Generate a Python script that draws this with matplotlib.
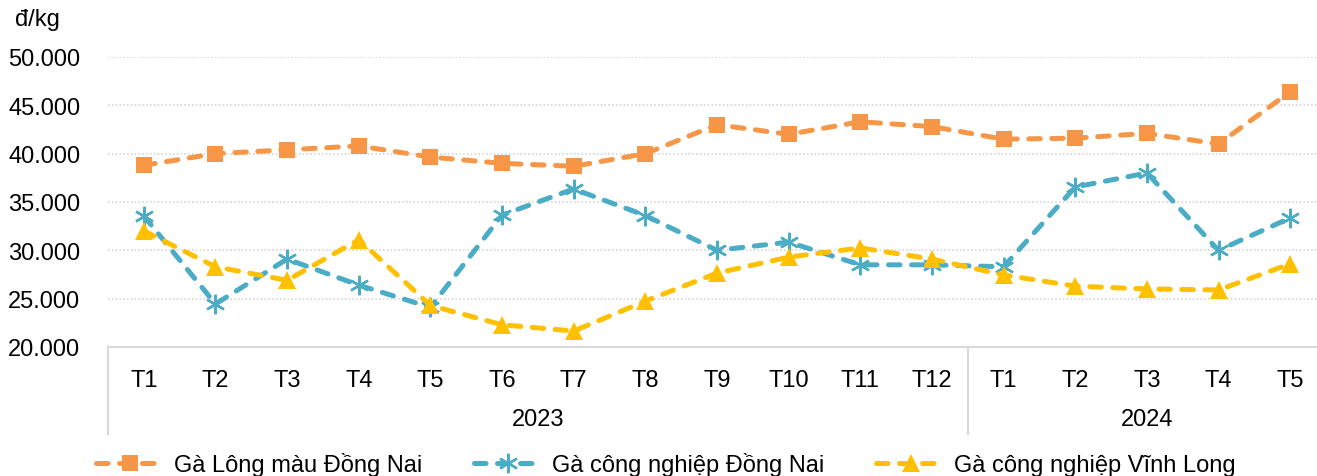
import matplotlib
matplotlib.use("Agg")
import matplotlib.pyplot as plt
from matplotlib.lines import Line2D
import matplotlib.transforms as mtransforms

plt.rcParams['font.family'] = ['Liberation Sans', 'DejaVu Sans']

months = ["T1", "T2", "T3", "T4", "T5", "T6", "T7", "T8", "T9", "T10", "T11", "T12",
          "T1", "T2", "T3", "T4", "T5"]
years = ["2023", "2024"]
year_counts = [12, 5]

ga_long_mau_dong_nai = [38800, 40000, 40400, 40800, 39650, 39000, 38700, 40000, 43000,
                        42000, 43300, 42800, 41500, 41600, 42100, 41000, 46400]
ga_cn_dong_nai = [33550, 24450, 29100, 26400, 24100, 33650, 36350, 33600, 30000,
                  30850, 28500, 28500, 28300, 36550, 38000, 30000, 33350]
ga_cn_vinh_long = [32000, 28300, 26900, 31100, 24300, 22300, 21650, 24750, 27650,
                   29300, 30250, 29100, 27450, 26300, 26000, 25900, 28600]

series_names = ["Gà Lông màu Đồng Nai", "Gà công nghiệp Đồng Nai", "Gà công nghiệp Vĩnh Long"]
colors = ["#F79646", "#4BACC6", "#FFC000"]

W, H = 1317, 477
fig = plt.figure(figsize=(W / 100, H / 100), dpi=100)
ax = fig.add_axes([108 / W, 129 / H, (1326 - 108) / W, 290 / H])

x = list(range(len(months)))
lw = 3.6
dash = (2.3, 2.3)
ax.plot(x, ga_long_mau_dong_nai, color=colors[0], lw=lw, dashes=dash,
        dash_capstyle='round', marker='s', markersize=11, markeredgewidth=0,
        label=series_names[0], zorder=3)
ax.plot(x, ga_cn_dong_nai, color=colors[1], lw=lw, dashes=dash,
        dash_capstyle='round', marker=(6, 2, 0), markersize=14, markeredgewidth=1.7,
        markeredgecolor=colors[1], label=series_names[1], zorder=3)
ax.plot(x, ga_cn_vinh_long, color=colors[2], lw=lw, dashes=dash,
        dash_capstyle='round', marker='^', markersize=13, markeredgewidth=0,
        label=series_names[2], zorder=4)

ax.set_xlim(-0.5, len(months) - 0.5)
ax.set_ylim(20000, 50000)
ax.set_yticks(range(20000, 50001, 5000))
ax.set_yticklabels([f"{v:,}".replace(",", ".") for v in range(20000, 50001, 5000)])
ax.yaxis.grid(True, color="#D0D0D0", linestyle=(0, (1, 1.5)), linewidth=1.1)
ax.set_axisbelow(True)
for s in ["top", "right", "left"]:
    ax.spines[s].set_visible(False)
ax.spines["bottom"].set_color("#D9D9D9")
ax.spines["bottom"].set_linewidth(1.5)
ax.tick_params(axis='y', length=0, labelsize=17, pad=20, colors="black")
ax.set_xticks(x)
ax.set_xticklabels(months)
ax.tick_params(axis='x', length=0, labelsize=17, pad=16, colors="black")

# category group separators and year labels
trans = mtransforms.blended_transform_factory(ax.transData, ax.transAxes)
edges = [-0.5]
for c in year_counts:
    edges.append(edges[-1] + c)
for e in edges:
    ax.add_line(Line2D([e, e], [0, -87 / 290], transform=trans, color="#D9D9D9",
                       lw=1.5, clip_on=False))
for i, yr in enumerate(years):
    cx = (edges[i] + edges[i + 1]) / 2
    ax.text(cx, -72 / 290, yr, transform=trans, ha='center', va='center', fontsize=17)

fig.text(15 / W, 1 - 20 / H, "đ/kg", fontsize=17, ha='left', va='center')

fig.legend(loc='center', bbox_to_anchor=(666 / W, 1 - 465 / H), ncol=3, frameon=False,
           fontsize=17, handlelength=2.9, handletextpad=0.4, columnspacing=2.2,
           borderaxespad=0)

fig.savefig("out.png", dpi=100)
